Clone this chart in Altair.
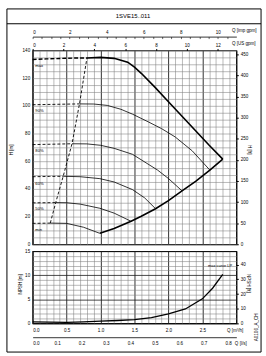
import altair as alt
import pandas as pd

FONT = "Liberation Sans"
title_text = "1SVE15..011"
code_text = "A0106_A_CH"

# ---------------- main chart data : Q [m3/h], H [m] ----------------
curve_names = ["max", "90%", "80%", "60%", "50%", "min"]
label_q = [0.04, 0.04, 0.04, 0.04, 0.04, 0.04]
label_h = [129.0, 96.0, 67.5, 43.5, 25.5, 10.0]

dash_q = [
    [0.0, 0.2, 0.4, 0.6, 0.8],
    [0.0, 0.35, 0.69],
    [0.0, 0.3, 0.58],
    [0.0, 0.25, 0.45],
    [0.0, 0.2, 0.34],
    [0.0, 0.15, 0.26],
]
dash_h = [
    [133.5, 133.9, 134.2, 134.5, 134.6],
    [100.8, 101.1, 101.4],
    [72.0, 72.3, 72.6],
    [48.8, 49.0, 49.1],
    [29.9, 30.0, 30.1],
    [15.1, 15.2, 15.3],
]
solid_q = [
    [0.80, 1.0, 1.2, 1.4, 1.5, 1.6, 1.8, 2.0, 2.2, 2.4, 2.6, 2.8],
    [0.69, 0.9, 1.1, 1.3, 1.47, 1.7, 1.9, 2.1, 2.35, 2.61],
    [0.58, 0.8, 1.0, 1.2, 1.47, 1.84, 2.0, 2.2],
    [0.45, 0.7, 0.99, 1.2, 1.47, 1.65, 1.81],
    [0.34, 0.5, 0.7, 0.99, 1.2, 1.45],
    [0.26, 0.5, 0.75, 0.99],
]
solid_h = [
    [134.6, 135.0, 134.3, 131.5, 128.0, 123.5, 113.5, 103.0, 92.5, 82.0, 71.5, 61.5],
    [101.4, 101.3, 100.3, 97.5, 94.0, 88.5, 83.5, 77.5, 67.5, 53.6],
    [72.6, 72.5, 71.5, 69.3, 65.0, 53.6, 47.5, 38.6],
    [49.1, 48.8, 47.4, 45.0, 39.5, 33.5, 25.7],
    [30.1, 30.0, 29.0, 26.0, 22.5, 16.6],
    [15.3, 15.1, 12.3, 7.9],
]
limit_q = [2.8, 2.61, 2.4, 2.2, 2.0, 1.81, 1.6, 1.45, 1.2, 0.99]
limit_h = [61.5, 53.6, 45.5, 38.6, 31.5, 25.7, 20.2, 16.6, 11.4, 7.9]
minflow_q = [0.26, 0.34, 0.45, 0.58, 0.69, 0.80]
minflow_h = [15.3, 30.1, 49.1, 72.6, 101.4, 134.6]

# ---------------- NPSH data : Q [m3/h], NPSH [m] ----------------
npsh_q = [0.0, 0.25, 0.5, 0.75, 1.0, 1.25, 1.5, 1.75, 2.0, 2.25, 2.5, 2.65, 2.8]
npsh_h = [0.3, 0.25, 0.22, 0.3, 0.45, 0.6, 0.8, 1.2, 2.0, 3.0, 5.1, 7.3, 10.2]
npsh_label = ["max curve LP"]
npsh_label_q = [2.76]
npsh_label_h = [12.0]

# ---------------- axes ----------------
q_grid = [0.0, 0.1, 0.2, 0.3, 0.4, 0.5, 0.6, 0.7, 0.8, 0.9, 1.0, 1.1, 1.2, 1.3, 1.4, 1.5,
          1.6, 1.7, 1.8, 1.9, 2.0, 2.1, 2.2, 2.3, 2.4, 2.5, 2.6, 2.7, 2.8, 2.9, 3.0]
ls_ticks = [0.0, 0.1, 0.2, 0.3, 0.4, 0.5, 0.6, 0.7, 0.8]
usgpm_ticks = [0, 2, 4, 6, 8, 10, 12]
imp_ticks = [0, 2, 4, 6, 8, 10]
imp_minor = [0, 0.5, 1, 1.5, 2, 2.5, 3, 3.5, 4, 4.5, 5, 5.5, 6, 6.5, 7, 7.5, 8, 8.5, 9, 9.5, 10, 10.5]
h_m_grid = list(range(0, 141, 5))
h_ft_ticks = [0, 50, 100, 150, 200, 250, 300, 350, 400, 450]
npsh_m_grid = list(range(0, 16))
npsh_ft_ticks = [0, 10, 20, 30, 40]

Q_MAX, H_MAX, NPSH_MAX = 3.0, 140.0, 15.0
USGPM, IMPGPM, LS, FT = 4.40287, 3.66615, 1 / 3.6, 3.28084

W, H1, H2 = 206, 196, 73
FS = 4.6
GRID_FINE = "#7f7f7f"
GRID_MAJOR = "#1a1a1a"
TXT = dict(labelFontSize=FS, labelFont=FONT, labelColor="black",
           titleFontSize=FS, titleFont=FONT, titleFontWeight="normal", titleColor="black")

major_x = "abs(datum.value*2 - round(datum.value*2)) < 0.01"


def rows(names, qss, hss):
    out = []
    for n, qs, hs in zip(names, qss, hss):
        for i, (q, h) in enumerate(zip(qs, hs)):
            out.append({"curve": n, "q": q, "h": h, "o": i})
    return pd.DataFrame(out)


dash_df = rows(curve_names, dash_q, dash_h)
thin_df = rows(curve_names[1:], solid_q[1:], solid_h[1:])
thick_df = rows(["max", "limit"], [solid_q[0], limit_q], [solid_h[0], limit_h])
minflow_df = rows(["minflow"], [minflow_q], [minflow_h])
label_df = pd.DataFrame({"curve": curve_names, "q": label_q, "h": label_h})
npsh_df = rows(["npsh"], [npsh_q], [npsh_h])
npsh_lab_df = pd.DataFrame({"t": npsh_label, "q": npsh_label_q, "h": npsh_label_h})
dom_main = pd.DataFrame({"q": [0.0, Q_MAX], "h": [0.0, H_MAX]})
dom_low = pd.DataFrame({"q": [0.0, Q_MAX], "h": [0.0, NPSH_MAX]})
one = pd.DataFrame({"a": [0]})

xs = alt.Scale(domain=[0, Q_MAX], nice=False, zero=False)
ys = alt.Scale(domain=[0, H_MAX], nice=False, zero=False)
ys2 = alt.Scale(domain=[0, NPSH_MAX], nice=False, zero=False)

xp = alt.X("q:Q", scale=xs, axis=None)
yp = alt.Y("h:Q", scale=ys, axis=None)
yp2 = alt.Y("h:Q", scale=ys2, axis=None)

# ---------- main chart ----------
grid_main = alt.Chart(dom_main).mark_point(opacity=0).encode(
    x=alt.X("q:Q", scale=xs, axis=alt.Axis(
        values=q_grid, grid=True,
        gridColor=alt.condition(major_x, alt.value(GRID_MAJOR), alt.value(GRID_FINE)),
        gridWidth=alt.condition(major_x, alt.value(0.9), alt.value(0.55)),
        labels=False, ticks=False, domain=False, title=None)),
    y=alt.Y("h:Q", scale=ys, axis=alt.Axis(
        values=h_m_grid, grid=True, gridColor=GRID_FINE, gridWidth=0.55,
        labelExpr="datum.value % 20 == 0 ? datum.label : ''",
        ticks=False, domain=False, labelPadding=3, title="H [m]",
        titleX=-21, titleY=100, titleAngle=270, titleAlign="center", titleBaseline="middle", **TXT)))

top_us = alt.Chart(dom_main).mark_point(opacity=0).encode(
    x=alt.X("q:Q", scale=xs, axis=alt.Axis(
        orient="top", values=[v / USGPM for v in usgpm_ticks],
        labelExpr="format(round(datum.value*%f), 'd')" % USGPM,
        domain=False, tickSize=2, tickColor="black", labelPadding=1, grid=False,
        title="Q [US gpm]", titleX=201, titleY=-7.5, titleAlign="left", titleBaseline="middle", **TXT)),
    y=alt.Y("h:Q", scale=ys, axis=alt.Axis(
        orient="right", values=[v / FT for v in h_ft_ticks],
        labelExpr="format(round(datum.value*%f), 'd')" % FT,
        domain=False, tickSize=2, tickColor="black", labelPadding=2, grid=False,
        title="H [ft]", titleX=12, titleY=100, titleAngle=90, titleAlign="center",
        titleBaseline="middle", **TXT)))

top_imp = alt.Chart(dom_main).mark_point(opacity=0).encode(
    x=alt.X("q:Q", scale=xs, axis=alt.Axis(
        orient="top", offset=14, values=[v / IMPGPM for v in imp_ticks],
        labelExpr="format(round(datum.value*%f), 'd')" % IMPGPM,
        domain=True, domainColor="black", domainWidth=0.8, ticks=False, labelPadding=2, grid=False,
        title="Q [imp gpm]", titleX=201, titleY=-6.5, titleAlign="left", titleBaseline="middle", **TXT)),
    y=yp)

top_imp_ticks = alt.Chart(dom_main).mark_point(opacity=0).encode(
    x=alt.X("q:Q", scale=xs, axis=alt.Axis(
        orient="top", offset=12, values=[v / IMPGPM for v in imp_minor], domain=False, labels=False,
        tickSize=2, tickColor="black", tickWidth=0.6, grid=False, title=None)),
    y=yp)

dash_layer = alt.Chart(dash_df[dash_df.curve != "max"]).mark_line(
    color="black", strokeWidth=0.9, strokeDash=[3, 2]).encode(x=xp, y=yp, detail="curve:N", order="o:Q")
max_dash = alt.Chart(dash_df[dash_df.curve == "max"]).mark_line(
    color="black", strokeWidth=1.4, strokeDash=[4, 2]).encode(x=xp, y=yp, order="o:Q")
thin_layer = alt.Chart(thin_df).mark_line(color="black", strokeWidth=0.8).encode(
    x=xp, y=yp, detail="curve:N", order="o:Q")
thick_layer = alt.Chart(thick_df).mark_line(color="black", strokeWidth=1.6).encode(
    x=xp, y=yp, detail="curve:N", order="o:Q")
minflow_layer = alt.Chart(minflow_df).mark_line(
    color="black", strokeWidth=0.9, strokeDash=[3, 2]).encode(x=xp, y=yp, order="o:Q")
label_layer = alt.Chart(label_df).mark_text(
    align="left", baseline="middle", fontSize=4.2, font=FONT, color="black").encode(
    x=xp, y=yp, text="curve:N")

frame = alt.Chart(one).mark_rect(filled=False, stroke="black", strokeWidth=1).encode(
    x=alt.value(-26), x2=alt.value(231), y=alt.value(-42), y2=alt.value(305))
title_rule = alt.Chart(one).mark_rule(color="black", strokeWidth=1).encode(
    x=alt.value(-26), x2=alt.value(231), y=alt.value(-27))
title_mark = alt.Chart(pd.DataFrame({"t": [title_text]})).mark_text(
    fontSize=6, font=FONT, color="black", baseline="middle").encode(
    x=alt.value(101.5), y=alt.value(-34.5), text="t:N")

main = alt.layer(grid_main, top_us, top_imp, top_imp_ticks, dash_layer, max_dash, thin_layer,
                 thick_layer, minflow_layer, label_layer, frame, title_rule, title_mark).resolve_axis(
    x="independent", y="independent").properties(width=W, height=H1)

# ---------- lower (NPSH) chart ----------
grid_low = alt.Chart(dom_low).mark_point(opacity=0).encode(
    x=alt.X("q:Q", scale=xs, axis=alt.Axis(
        values=q_grid, grid=True,
        gridColor=alt.condition(major_x, alt.value(GRID_MAJOR), alt.value(GRID_FINE)),
        gridWidth=alt.condition(major_x, alt.value(0.9), alt.value(0.55)),
        labelExpr="indexof([0,0.5,1,1.5,2,2.5], datum.value) >= 0 ? format(datum.value, '.1f') : ''",
        ticks=False, domain=False, labelPadding=4,
        title="Q [m³/h]", titleX=196, titleY=7, titleAlign="left", titleBaseline="middle", **TXT)),
    y=alt.Y("h:Q", scale=ys2, axis=alt.Axis(
        values=npsh_m_grid, grid=True,
        gridColor=alt.condition("datum.value % 5 == 0", alt.value(GRID_MAJOR), alt.value(GRID_FINE)),
        gridWidth=alt.condition("datum.value % 5 == 0", alt.value(0.8), alt.value(0.55)),
        labelExpr="datum.value % 5 == 0 ? datum.label : ''",
        ticks=False, domain=False, labelPadding=3,
        title="NPSH [m]", titleX=-12, titleY=33, titleAngle=270, titleAlign="center",
        titleBaseline="middle", **TXT)))

low_sec = alt.Chart(dom_low).mark_point(opacity=0).encode(
    x=alt.X("q:Q", scale=xs, axis=alt.Axis(
        orient="bottom", offset=14, values=[v * 3.6 for v in ls_ticks],
        labelExpr="format(datum.value/3.6, '.1f')",
        domain=True, domainColor="black", domainWidth=0.8, ticks=False, labelPadding=3, grid=False,
        title="Q [l/s]", titleX=204, titleY=6, titleAlign="left", titleBaseline="middle", **TXT)),
    y=alt.Y("h:Q", scale=ys2, axis=alt.Axis(
        orient="right", values=[v / FT for v in npsh_ft_ticks],
        labelExpr="format(round(datum.value*%f), 'd')" % FT,
        domain=False, tickSize=2, tickColor="black", labelPadding=2, grid=False,
        title="NPSH [ft]", titleX=11, titleY=32, titleAngle=90, titleAlign="center",
        titleBaseline="middle", **TXT)))

npsh_line = alt.Chart(npsh_df).mark_line(color="black", strokeWidth=1.3).encode(
    x=xp, y=yp2, order="o:Q")
npsh_text = alt.Chart(npsh_lab_df).mark_text(fontSize=4, font=FONT, color="black").encode(
    x=xp, y=yp2, text="t:N")
code_mark = alt.Chart(pd.DataFrame({"t": [code_text]})).mark_text(
    fontSize=4.6, font=FONT, color="black", angle=270, baseline="middle").encode(
    x=alt.value(226.5), y=alt.value(77), text="t:N")

lower = alt.layer(grid_low, low_sec, npsh_line, npsh_text, code_mark).resolve_axis(
    x="independent", y="independent").properties(width=W, height=H2)

chart = alt.vconcat(main, lower, spacing=7, bounds="flush").properties(
    padding={"left": 5, "top": 5, "right": 3, "bottom": 3},
    background="white",
).configure_view(stroke="black", strokeWidth=1.2)

chart.save("out.html", embed_options={"renderer": "svg", "actions": False})
